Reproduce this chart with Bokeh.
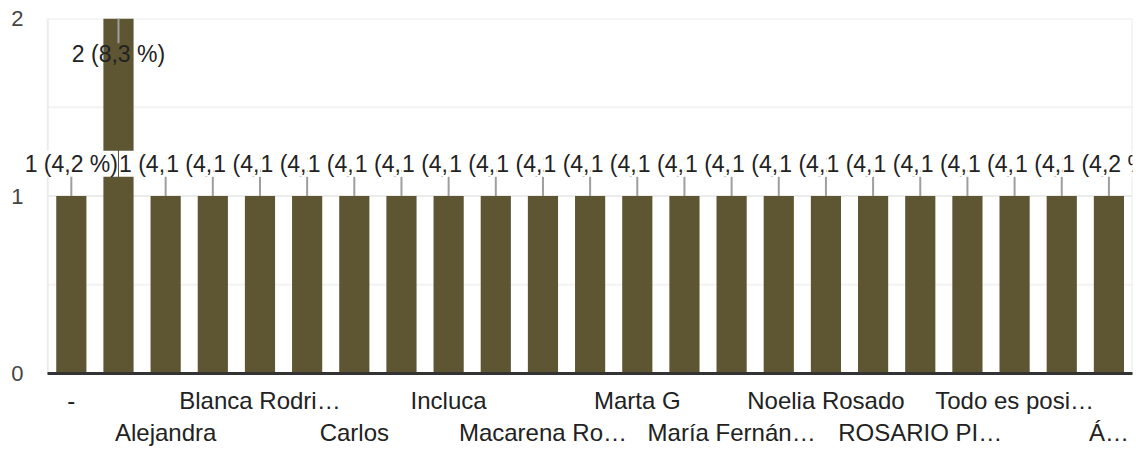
from bokeh.plotting import figure
from bokeh.models import ColumnDataSource, Range1d, FixedTicker, LinearAxis, Label
from bokeh.embed import file_html
from bokeh.resources import INLINE

# ---- data ----
labels = ["-", "", "Alejandra", "", "Blanca Rodri…", "", "Carlos", "", "Incluca", "",
          "Macarena Ro…", "", "Marta G", "", "María Fernán…", "", "Noelia Rosado", "",
          "ROSARIO PI…", "", "Todo es posi…", "", "Á…"]
counts = [1, 2, 1, 1, 1, 1, 1, 1, 1, 1, 1, 1, 1, 1, 1, 1, 1, 1, 1, 1, 1, 1, 1]
y_ticks = [0, 1, 2]
y_minor = [0.5, 1.5]

FONT = "Liberation Sans"
BAR = "#5e5533"
GRID = "#ebebeb"
GRID_MINOR = "#f3f3f3"
LEFT_PAD = 0.62   # extra room left of the first slot so the first value label is not clipped

total = sum(counts)
n = len(counts)
idx = list(range(n))
y_max = max(y_ticks)
x_lo, x_hi = -0.5, n - 0.5
pct = [f"{c} ({c / total * 100:.1f} %)".replace(".", ",") for c in counts]
above = [c + 0.3 <= y_max for c in counts]
line_end = [c + 0.12 if a else c - 0.14 for c, a in zip(counts, above)]
label_y = [c + 0.182 if a else c - 0.20 for c, a in zip(counts, above)]

src = ColumnDataSource(dict(x=idx, count=counts, line_end=line_end))

p = figure(width=1141, height=448, x_range=Range1d(x_lo - LEFT_PAD, x_hi),
           y_range=Range1d(0, y_max), output_backend="svg", toolbar_location=None,
           min_border_left=18, min_border_right=9, min_border_top=18, min_border_bottom=0)
p.outline_line_color = None
p.background_fill_color = "white"
p.border_fill_color = "white"
p.xgrid.visible = False
p.ygrid.visible = False

# y axis (labels pulled to the right so they sit left of the plotted area)
p.yaxis.ticker = FixedTicker(ticks=y_ticks)
p.yaxis.axis_line_color = None
p.yaxis.major_tick_line_color = None
p.yaxis.minor_tick_line_color = None
p.yaxis.major_tick_out = 0
p.yaxis.major_label_standoff = -5
p.yaxis.major_label_text_font = FONT
p.yaxis.major_label_text_font_size = "22px"
p.yaxis.major_label_text_color = "#444444"

# grid lines and plot-area border, spanning only the category slots
p.segment(x0=[x_lo] * len(y_minor), y0=y_minor, x1=[x_hi] * len(y_minor), y1=y_minor,
          line_color=GRID_MINOR, line_width=2)
p.segment(x0=[x_lo] * len(y_ticks), y0=y_ticks, x1=[x_hi] * len(y_ticks), y1=y_ticks,
          line_color=GRID, line_width=2)
p.segment(x0=[x_lo, x_hi], y0=[0, 0], x1=[x_lo, x_hi], y1=[y_max, y_max],
          line_color=GRID, line_width=2)

# x axes: two staggered rows of category labels
row1 = [i for i in idx if labels[i] and i % 4 == 0]
row2 = [i for i in idx if labels[i] and i % 4 == 2]

ax1 = p.xaxis[0]
ax1.ticker = FixedTicker(ticks=row1)
ax1.bounds = (x_lo, x_hi)
ax1.major_label_overrides = {i: labels[i] for i in row1}
ax1.axis_line_color = "#333333"
ax1.axis_line_width = 3
ax1.major_tick_line_color = None
ax1.minor_tick_line_color = None
ax1.major_tick_out = 0
ax1.major_label_standoff = 13
ax1.major_label_text_font = FONT
ax1.major_label_text_font_size = "24px"
ax1.major_label_text_color = "#222222"

ax2 = LinearAxis(ticker=FixedTicker(ticks=row2),
                 major_label_overrides={i: labels[i] for i in row2},
                 axis_line_color=None, major_tick_line_color=None,
                 minor_tick_line_color=None, major_tick_out=0,
                 major_label_standoff=2, major_label_text_font=FONT,
                 major_label_text_font_size="24px", major_label_text_color="#222222")
p.add_layout(ax2, "below")

# bars and leader lines
p.vbar(x="x", top="count", width=0.64, source=src, fill_color=BAR, line_color=None)
p.segment(x0="x", y0="count", x1="x", y1="line_end", source=src,
          line_color="#9e9e9e", line_width=2)

# value labels (each later label's white box masks the previous one, as in the reference)
for i, a in enumerate(above):
    kw = dict(x=idx[i], y=label_y[i], text=pct[i], text_align="center",
              text_baseline="middle", text_font=FONT, text_font_size="23px",
              text_color="#222222")
    if a:
        kw["background_fill_color"] = "white"
    p.add_layout(Label(**kw))

open("out.html", "w").write(file_html(p, INLINE))
